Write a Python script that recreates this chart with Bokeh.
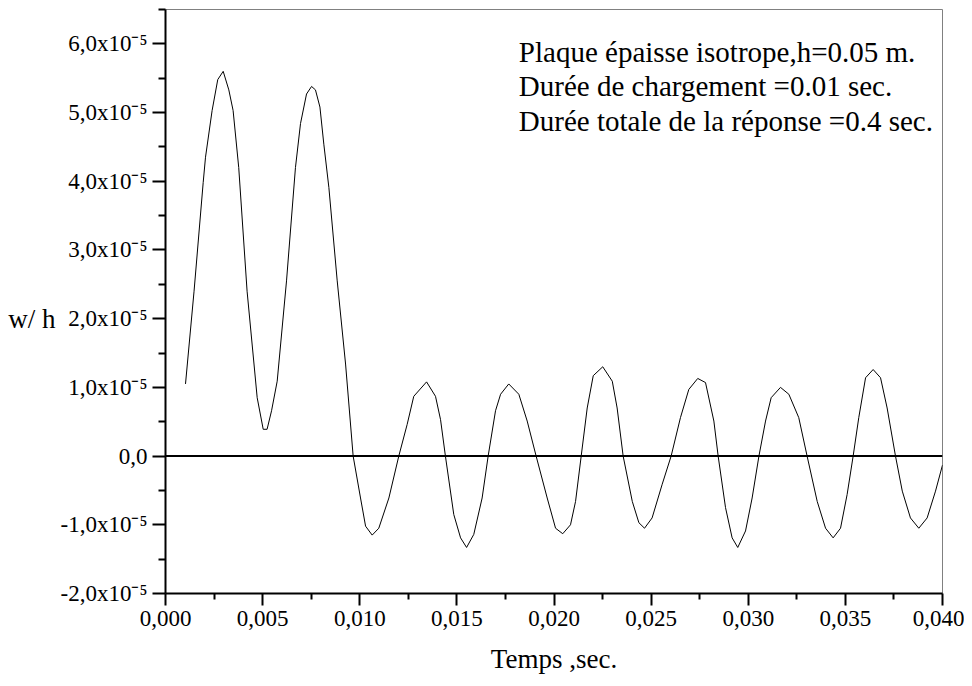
from bokeh.plotting import figure
from bokeh.models import Range1d, FixedTicker, CustomJSTickFormatter, Span, Label, LinearAxis
from bokeh.embed import file_html
from bokeh.resources import INLINE

# time (s)
T = [0.00103, 0.00147, 0.00194, 0.00206, 0.00240, 0.00269, 0.00297, 0.00326, 0.00348, 0.00377,
     0.00420, 0.00472, 0.00503, 0.00523, 0.00546, 0.00575, 0.00623, 0.00669, 0.00695, 0.00726,
     0.00752, 0.00772, 0.00795, 0.00815, 0.00841, 0.00884, 0.00927, 0.00966, 0.01004, 0.01030,
     0.01064, 0.01098, 0.01150, 0.01201, 0.01244, 0.01278, 0.01344, 0.01390, 0.01416, 0.01441,
     0.01484, 0.01519, 0.01550, 0.01587, 0.01630, 0.01661, 0.01699, 0.01725, 0.01767, 0.01819,
     0.01862, 0.01908, 0.01965, 0.02008, 0.02045, 0.02085, 0.02111, 0.02140, 0.02171, 0.02202,
     0.02251, 0.02300, 0.02325, 0.02356, 0.02403, 0.02437, 0.02466, 0.02505, 0.02557, 0.02603,
     0.02651, 0.02694, 0.02740, 0.02780, 0.02823, 0.02845, 0.02883, 0.02917, 0.02946, 0.02986,
     0.03020, 0.03055, 0.03089, 0.03118, 0.03166, 0.03209, 0.03260, 0.03303, 0.03355, 0.03398,
     0.03437, 0.03475, 0.03509, 0.03540, 0.03569, 0.03604, 0.03643, 0.03681, 0.03715, 0.03758,
     0.03793, 0.03835, 0.03878, 0.03921, 0.03964, 0.04000]

# w/h in units of 1e-5
W_E5 = [1.05, 2.40, 3.98, 4.35, 5.03, 5.48, 5.60, 5.33, 5.03, 4.20,
        2.40, 0.85, 0.39, 0.39, 0.66, 1.09, 2.55, 4.20, 4.84, 5.27,
        5.38, 5.33, 5.08, 4.54, 3.91, 2.55, 1.34, 0.00, -0.61, -1.02,
        -1.15, -1.05, -0.61, 0.00, 0.46, 0.87, 1.08, 0.87, 0.53, 0.00,
        -0.85, -1.19, -1.33, -1.14, -0.61, 0.00, 0.66, 0.90, 1.05, 0.90,
        0.51, 0.00, -0.61, -1.05, -1.13, -1.00, -0.66, 0.00, 0.70, 1.17,
        1.30, 1.09, 0.70, 0.00, -0.66, -0.97, -1.05, -0.90, -0.41, 0.00,
        0.56, 0.97, 1.13, 1.07, 0.51, 0.00, -0.75, -1.19, -1.33, -1.09,
        -0.61, 0.00, 0.51, 0.85, 1.00, 0.90, 0.56, 0.00, -0.66, -1.05,
        -1.19, -1.05, -0.56, 0.00, 0.56, 1.14, 1.26, 1.14, 0.70, 0.00,
        -0.51, -0.90, -1.05, -0.90, -0.51, -0.13]

X_TICKS = [0.0, 0.005, 0.010, 0.015, 0.020, 0.025, 0.030, 0.035, 0.040]
X_MINOR = [0.0025, 0.0075, 0.0125, 0.0175, 0.0225, 0.0275, 0.0325, 0.0375]
Y_TICKS = [-2, -1, 0, 1, 2, 3, 4, 5, 6]
Y_MINOR = [-1.5, -0.5, 0.5, 1.5, 2.5, 3.5, 4.5, 5.5, 6.5]

NOTES = ["Plaque épaisse isotrope,h=0.05 m.",
         "Durée de chargement =0.01 sec.",
         "Durée totale de la réponse =0.4 sec."]
X_TITLE = "Temps ,sec."
Y_TITLE = "w/ h"
Y_TITLE_AT = 2  # the y title sits level with this tick

FONT = "Liberation Serif"

p = figure(width=964, height=678, output_backend="svg", toolbar_location=None,
           x_range=Range1d(0, 0.04), y_range=Range1d(-2, 6.5),
           min_border_left=165, min_border_right=22, min_border_top=9, min_border_bottom=85)
p.background_fill_color = "white"
p.border_fill_color = "white"
p.outline_line_color = "#808080"
p.outline_line_width = 1
p.grid.visible = False

p.line(T, W_E5, line_color="black", line_width=1)

p.add_layout(Span(location=0, dimension="width", line_color="black", line_width=2))

xa = p.xaxis[0]
xa.ticker = FixedTicker(ticks=X_TICKS, minor_ticks=X_MINOR)
xa.formatter = CustomJSTickFormatter(code="return tick.toFixed(3).replace('.', ',');")
ya = p.yaxis[0]
ya.ticker = FixedTicker(ticks=Y_TICKS, minor_ticks=Y_MINOR)
ya.formatter = CustomJSTickFormatter(code="""
if (Math.abs(tick) < 1e-9) { return '0,0'; }
return tick.toFixed(1).replace('.', ',') + 'x10\u207B\u2075';
""")
for ax, mo, mi, fs, so in ((xa, 12, 6, "23px", 5), (ya, 13, 7, "23px", 5)):
    ax.axis_line_color = "black"
    ax.axis_line_width = 2
    ax.major_tick_line_color = "black"
    ax.major_tick_line_width = 2
    ax.minor_tick_line_color = "black"
    ax.minor_tick_line_width = 2
    ax.major_tick_in = 0
    ax.minor_tick_in = 0
    ax.major_tick_out = mo
    ax.minor_tick_out = mi
    ax.major_label_text_font = FONT
    ax.major_label_text_font_size = fs
    ax.major_label_text_color = "black"
    ax.major_label_standoff = so

xa.axis_label = X_TITLE
xa.axis_label_text_font = FONT
xa.axis_label_text_font_size = "27px"
xa.axis_label_text_font_style = "normal"
xa.axis_label_text_color = "black"
xa.axis_label_standoff = 15

# y title: a bare axis whose single label sits level with the 2,0 tick
yt = LinearAxis(ticker=FixedTicker(ticks=[Y_TITLE_AT], minor_ticks=[]),
                formatter=CustomJSTickFormatter(args=dict(t=Y_TITLE), code="return t;"))
yt.axis_line_color = None
yt.major_tick_line_color = None
yt.minor_tick_line_color = None
yt.major_tick_out = 0
yt.major_tick_in = 0
yt.major_label_standoff = 2
yt.major_label_text_font = FONT
yt.major_label_text_font_size = "27px"
yt.major_label_text_color = "black"
p.add_layout(yt, "left")

for txt, yy in zip(NOTES, [5.88, 5.38, 4.88]):
    p.add_layout(Label(x=0.01819, y=yy, text=txt, text_font=FONT,
                       text_font_size="29px", text_color="black",
                       text_align="left", text_baseline="alphabetic"))

open("out.html", "w").write(file_html(p, INLINE))
